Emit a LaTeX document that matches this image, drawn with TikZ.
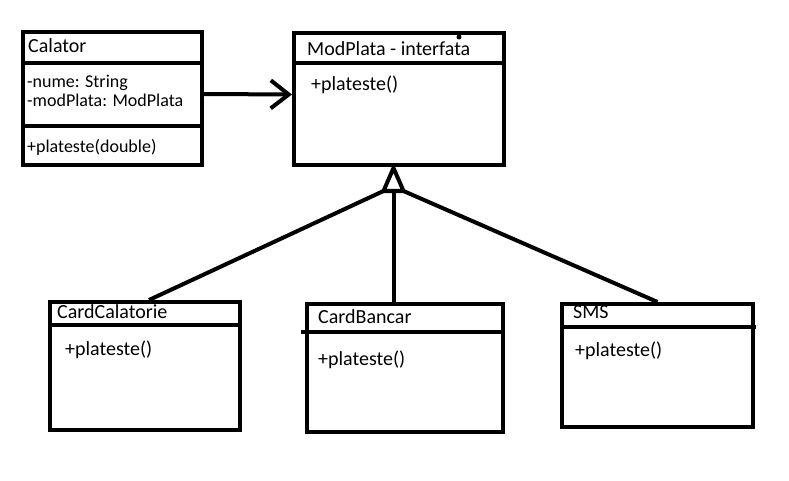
\documentclass[tikz,border=0pt]{standalone}
\usepackage{fontspec}
\setmainfont{Carlito}
\usetikzlibrary{arrows.meta,calc}
\begin{document}
\begin{tikzpicture}[x=1pt,y=-1pt,
  umlbox/.style={draw=black,line width=4pt,fill=white,anchor=north west,inner sep=0pt},
  divider/.style={line width=4pt},
  conn/.style={line width=4pt},
  lbl/.style={anchor=base west,inner sep=0pt,font=\fontsize{20}{24}\selectfont},
  lblsmall/.style={anchor=base west,inner sep=0pt,font=\fontsize{18}{22}\selectfont}]
\useasboundingbox[fill=white] (0,0) rectangle (789,481);

% Calator
\node[umlbox,minimum width=179pt,minimum height=133pt] (calator) at (21,30) {};
\draw[divider] (21,63) -- (200,63);
\draw[divider] (21,126) -- (200,126);
\node[lbl] (calT) at (28,53) {Calator};
\node[lblsmall] (calA1) at (27,88) {-nume: String};
\node[lblsmall] (calA2) at (27,107) {-modPlata: ModPlata};
\node[lblsmall] (calM) at (27,153) {+plateste(double)};

% ModPlata
\node[umlbox,minimum width=210pt,minimum height=132pt] (modplata) at (292,31) {};
\draw[divider] (292,63) -- (505,63);
\node[lbl] (modT) at (307,56) {ModPlata - interfata};
\fill (459,37) circle (2.5pt);
\node[lbl] (modM) at (311,91) {+plateste()};

% CardCalatorie
\node[umlbox,minimum width=190pt,minimum height=128pt] (cardcal) at (48,300) {};
\draw[divider] (48,325) -- (238,325);
\node[lbl] (ccT) at (57,318) {CardCalatorie};
\node[lbl] (ccM) at (65,355) {+plateste()};

% CardBancar
\node[umlbox,minimum width=196pt,minimum height=128pt] (bancar) at (305,302) {};
\draw[divider] (301,332) -- (501,332);
\node[lbl] (cbT) at (318,323) {CardBancar};
\node[lbl] (cbM) at (318,365) {+plateste()};

% SMS
\node[umlbox,minimum width=191pt,minimum height=123pt] (sms) at (560,302) {};
\draw[divider] (560,327) -- (756,327);
\node[lbl] (smsT) at (573,318) {SMS};
\node[lbl] (smsM) at (575,356) {+plateste()};

% association arrow
\draw[conn,-{Straight Barb[length=18pt,width=28pt,line width=4pt]}]
  ([yshift=4.5pt]calator.east) -- ([yshift=4.5pt]modplata.west);

% inheritance triangle
\coordinate (apex) at ([xshift=-5.5pt,yshift=-1pt]modplata.south);
\coordinate (bl) at ($(apex)+(-10,23)$);
\coordinate (br) at ($(apex)+(10,23)$);
\coordinate (bc) at ($(apex)+(0,23)$);
\draw[conn,line join=miter] (apex) -- (bl) -- (br) -- cycle;
\draw[conn] (bl) -- ([xshift=4pt]cardcal.north);
\draw[conn] (bc) -- (bancar.north -| bc);
\draw[conn] (br) -- (sms.north);
\end{tikzpicture}
\end{document}
